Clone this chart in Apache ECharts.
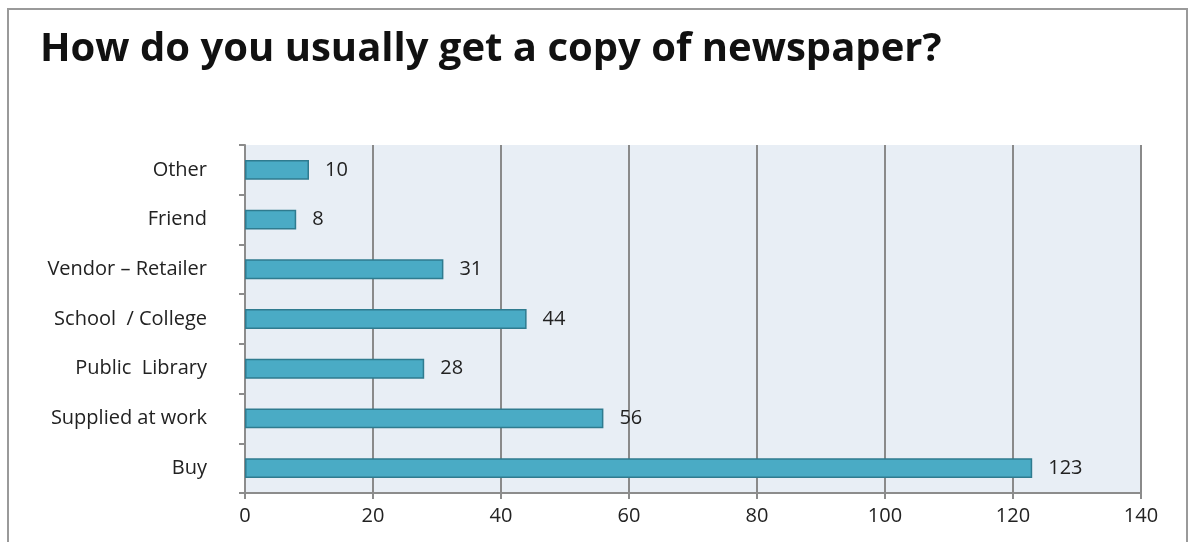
<!DOCTYPE html>
<html>
<head>
<meta charset="utf-8">
<script src="https://cdn.jsdelivr.net/npm/echarts@6/dist/echarts.min.js"></script>
<style>
  html, body { margin: 0; padding: 0; background: #fff; }
  #frame { position: absolute; left: 7px; top: 8px; width: 1181px; height: 600px; border: 2px solid #9a9a9a; box-sizing: border-box; }
  #chart { position: absolute; left: 0; top: 0; width: 1192px; height: 542px; }
</style>
</head>
<body>
<div id="frame"></div>
<div id="chart"></div>
<script>
// categories listed bottom to top, as the y axis draws them
const categories = ["Buy", "Supplied at work", "Public  Library", "School  / College", "Vendor \u2013 Retailer", "Friend", "Other"];
const counts = [123, 56, 28, 44, 31, 8, 10];
const xTicks = { min: 0, max: 140, interval: 20 };

const chart = echarts.init(document.getElementById("chart"));
chart.setOption({
  animation: false,
  title: {
    text: "How do you usually get a copy of newspaper?",
    left: 35,
    top: 25,
    textStyle: { fontFamily: "Open Sans", fontWeight: "bold", fontSize: 40, color: "#111" }
  },
  grid: { left: 245, right: 51, top: 145, bottom: 49, show: true, backgroundColor: "#e8eef5", borderWidth: 0 },
  xAxis: {
    type: "value",
    min: xTicks.min,
    max: xTicks.max,
    interval: xTicks.interval,
    axisLine: { show: true, lineStyle: { color: "#8c8c8c", width: 2 } },
    axisTick: { show: true, length: 6, lineStyle: { color: "#8c8c8c", width: 2 } },
    axisLabel: { margin: 13, fontFamily: "Open Sans", fontSize: 20, color: "#222" },
    splitLine: { show: true, lineStyle: { color: "#8a8a8a", width: 2 } }
  },
  yAxis: {
    type: "category",
    data: categories,
    axisLine: { show: true, lineStyle: { color: "#8c8c8c", width: 2 } },
    axisTick: { show: true, length: 6, lineStyle: { color: "#8c8c8c", width: 2 } },
    axisLabel: { margin: 38, fontFamily: "Open Sans", fontSize: 20, color: "#222" },
    splitLine: { show: false }
  },
  series: [{
    type: "bar",
    data: counts,
    barCategoryGap: "60%",
    itemStyle: { color: "#4aabc5", borderColor: "#2f7b8f", borderWidth: 1.5 },
    label: { show: true, position: "right", distance: 16, fontFamily: "Open Sans", fontSize: 20, color: "#222" }
  }]
});
</script>
</body>
</html>
